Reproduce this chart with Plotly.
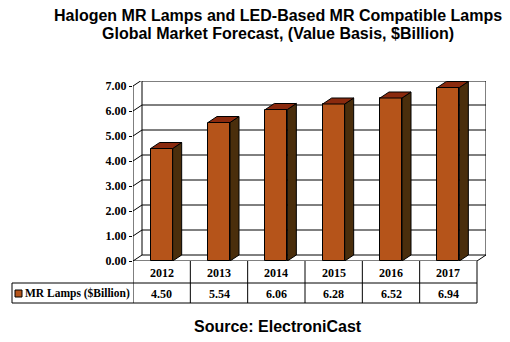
import plotly.graph_objects as go

years = ["2012", "2013", "2014", "2015", "2016", "2017"]
values = [4.50, 5.54, 6.06, 6.28, 6.52, 6.94]
value_labels = ["4.50", "5.54", "6.06", "6.28", "6.52", "6.94"]
y_ticks = [0, 1, 2, 3, 4, 5, 6, 7]
y_tick_text = ["0.00", "1.00", "2.00", "3.00", "4.00", "5.00", "6.00", "7.00"]
series_name = "MR Lamps ($Billion)"
title_lines = ["Halogen MR Lamps and LED-Based MR Compatible Lamps",
               "Global Market Forecast, (Value Basis, $Billion)"]
source_text = "Source: ElectroniCast"

W, H = 510, 342
L, R, T, B = 133, 486, 81, 261  # plot area pixels
DX, DY = 0.157, 0.24            # 3D depth in data units
HW = 0.192                       # half bar width
YMAX = 7.2

FRONT = "#B5541A"
TOP = "#8A2A0E"
SIDE = "#4A2E0C"

def px_x(p):
    return (p - L) / (R - L)

def px_y(p):
    return (B - p) / (B - T)

xs = list(range(len(years)))
fig = go.Figure()

# front faces
fig.add_trace(go.Bar(x=xs, y=values, width=2 * HW, marker=dict(color=FRONT, line=dict(color="black", width=1)),
                     hoverinfo="skip", showlegend=False))
# side and top faces
for x, v in zip(xs, values):
    fig.add_trace(go.Scatter(x=[x + HW, x + HW + DX, x + HW + DX, x + HW, x + HW],
                             y=[0, DY, v + DY, v, 0], fill="toself", fillcolor=SIDE, mode="lines",
                             line=dict(color="black", width=1), hoverinfo="skip", showlegend=False))
    fig.add_trace(go.Scatter(x=[x - HW, x - HW + DX, x + HW + DX, x + HW, x - HW],
                             y=[v, v + DY, v + DY, v, v], fill="toself", fillcolor=TOP, mode="lines",
                             line=dict(color="black", width=1), hoverinfo="skip", showlegend=False))

shapes = []
line = dict(color="black", width=1)
x0, x1 = -0.5, 5.5
# back wall gridlines and left wall diagonals
for t in y_ticks:
    shapes.append(dict(type="line", xref="x", yref="y", x0=x0 + DX, x1=x1 + DX, y0=t + DY, y1=t + DY, line=line, layer="below"))
    shapes.append(dict(type="line", xref="x", yref="y", x0=x0, x1=x0 + DX, y0=t, y1=t + DY, line=line, layer="below"))
# walls
shapes += [
    dict(type="line", xref="x", yref="y", x0=x0, x1=x0, y0=0, y1=7, line=line, layer="below"),
    dict(type="line", xref="x", yref="y", x0=x0 + DX, x1=x0 + DX, y0=DY, y1=YMAX, line=line, layer="below"),
    dict(type="line", xref="x", yref="y", x0=x0 + DX, x1=x1 + DX, y0=YMAX, y1=YMAX, line=line, layer="below"),
    dict(type="line", xref="x", yref="y", x0=x1 + DX, x1=x1 + DX, y0=DY, y1=YMAX, line=line, layer="below"),
    dict(type="line", xref="x", yref="y", x0=x0, x1=x1, y0=0, y1=0, line=line, layer="below"),
    dict(type="line", xref="x", yref="y", x0=x1, x1=x1 + DX, y0=0, y1=DY, line=line, layer="below"),
]
# table
row_mid, row_bot = px_y(283), px_y(303)
for i in range(len(years) + 1):
    shapes.append(dict(type="line", xref="x", yref="paper", x0=i - 0.5, x1=i - 0.5, y0=0, y1=row_bot, line=line))
shapes.append(dict(type="line", xref="paper", yref="paper", x0=px_x(12), x1=px_x(477), y0=row_mid, y1=row_mid, line=line))
shapes.append(dict(type="line", xref="paper", yref="paper", x0=px_x(12), x1=px_x(477), y0=row_bot, y1=row_bot, line=line))
shapes.append(dict(type="line", xref="paper", yref="paper", x0=px_x(12), x1=px_x(12), y0=row_mid, y1=row_bot, line=line))
shapes.append(dict(type="rect", xref="paper", yref="paper", x0=px_x(15), x1=px_x(22), y0=px_y(297), y1=px_y(290),
                   fillcolor=FRONT, line=dict(color="black", width=1)))

tfont = dict(family="Liberation Serif", size=12, color="black")
lfont = dict(family="Liberation Serif", size=11.5, color="black")
sfont = dict(family="Liberation Sans", size=16, color="black")
ann = []
for i, (yr, vl) in enumerate(zip(years, value_labels)):
    ann.append(dict(x=i, y=px_y(272.5), xref="x", yref="paper", text="<b>%s</b>" % yr, showarrow=False,
                    font=tfont, xanchor="center", yanchor="middle"))
    ann.append(dict(x=i, y=px_y(293.5), xref="x", yref="paper", text="<b>%s</b>" % vl, showarrow=False,
                    font=tfont, xanchor="center", yanchor="middle"))
ann.append(dict(x=px_x(23), y=px_y(293.5), xref="paper", yref="paper", xanchor="left", yanchor="middle",
                text="<b>%s</b>" % series_name, showarrow=False, font=lfont))
ann.append(dict(x=px_x(278), y=px_y(326), xref="paper", yref="paper", text="<b>%s</b>" % source_text,
                showarrow=False, font=sfont, xanchor="center", yanchor="middle"))
for k, (tl, py) in enumerate(zip(title_lines, [15, 33])):
    ann.append(dict(x=px_x(278), y=px_y(py), xref="paper", yref="paper", text="<b>%s</b>" % tl,
                    showarrow=False, font=sfont, xanchor="center", yanchor="middle"))

fig.update_layout(
    width=W, height=H, margin=dict(l=L, r=W - R, t=T, b=H - B, pad=0),
    paper_bgcolor="white", plot_bgcolor="white",
    xaxis=dict(range=[-0.5, 5.5 + DX], showgrid=False, zeroline=False, showticklabels=False, showline=False, fixedrange=True),
    yaxis=dict(range=[0, YMAX], tickvals=y_ticks, ticktext=["<b>%s</b>" % t for t in y_tick_text], showgrid=False,
               zeroline=False, showline=False, ticks="outside", ticklen=3, tickcolor="black", tickfont=tfont, fixedrange=True),
    shapes=shapes, annotations=ann, showlegend=False, bargap=0,
)
fig.write_html("out.html")
